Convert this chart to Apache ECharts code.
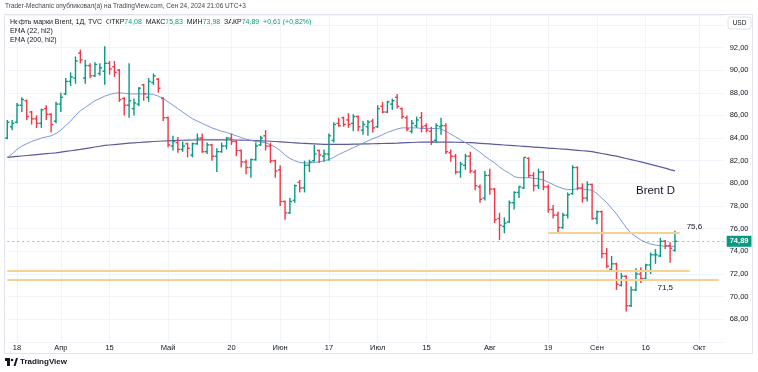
<!DOCTYPE html>
<html><head><meta charset="utf-8">
<script src="https://cdn.jsdelivr.net/npm/echarts@6/dist/echarts.min.js"></script>
<style>html,body{margin:0;padding:0;background:#fff;}#c{width:758px;height:372px;}</style>
</head><body><div id="c"></div>
<script>
// ---- data (trading days, TVC Brent, 1D) ----
const dates = [
'03-14','03-15','03-18','03-19','03-20','03-21','03-22','03-25','03-26','03-27','03-28',
'04-01','04-02','04-03','04-04','04-05','04-08','04-09','04-10','04-11','04-12','04-15','04-16','04-17','04-18','04-19','04-22','04-23','04-24','04-25','04-26','04-29','04-30',
'05-01','05-02','05-03','05-06','05-07','05-08','05-09','05-10','05-13','05-14','05-15','05-16','05-17','05-20','05-21','05-22','05-23','05-24','05-27','05-28','05-29','05-30','05-31',
'06-03','06-04','06-05','06-06','06-07','06-10','06-11','06-12','06-13','06-14','06-17','06-18','06-19','06-20','06-21','06-24','06-25','06-26','06-27','06-28',
'07-01','07-02','07-03','07-04','07-05','07-08','07-09','07-10','07-11','07-12','07-15','07-16','07-17','07-18','07-19','07-22','07-23','07-24','07-25','07-26','07-29','07-30','07-31',
'08-01','08-02','08-05','08-06','08-07','08-08','08-09','08-12','08-13','08-14','08-15','08-16','08-19','08-20','08-21','08-22','08-23','08-26','08-27','08-28','08-29','08-30',
'09-02','09-03','09-04','09-05','09-06','09-09','09-10','09-11','09-12','09-13','09-16','09-17','09-18','09-19','09-20','09-23','09-24'];
const futureDates = ['09-25','09-26','09-27','09-30','10-01','10-02','10-03','10-04','10-07','10-08'];

const opens = [
84.0,85.0,85.4,86.9,87.3,86.3,85.7,85.3,86.6,86.1,85.5,
87.0,87.9,89.0,89.3,91.5,89.3,90.4,89.5,89.7,89.9,90.6,90.3,90.0,87.5,86.9,86.6,87.0,88.7,87.6,88.9,89.2,87.5,
85.8,83.3,83.6,83.0,83.5,82.5,83.5,84.0,82.8,83.4,82.4,82.8,83.3,84.0,83.7,82.9,81.9,81.4,82.1,83.4,84.2,83.3,82.0,
81.2,78.4,77.4,78.5,80.1,79.6,81.6,82.0,82.9,82.4,82.6,83.8,85.3,85.8,85.6,85.3,85.9,84.7,85.0,85.5,
85.0,86.8,86.3,87.0,87.6,86.6,85.8,84.6,85.1,85.8,85.1,84.6,83.8,85.0,85.1,82.7,82.4,81.0,81.6,82.4,81.0,79.7,78.7,
80.7,79.5,76.9,76.2,76.6,78.3,79.2,79.6,82.2,80.7,79.8,81.0,79.7,77.7,77.2,76.1,77.2,79.1,81.4,79.6,78.7,79.9,
76.9,77.5,73.8,72.4,72.9,71.0,71.8,69.2,70.6,72.0,71.6,72.8,73.7,73.6,74.9,74.5,74.08];
const highs = [
85.6,85.6,87.1,87.6,87.4,86.4,86.0,86.6,86.9,86.2,87.2,
88.0,89.3,89.8,91.2,91.8,90.9,90.6,90.7,90.6,92.1,90.8,90.8,90.1,87.6,90.6,87.5,88.5,88.8,89.3,89.7,89.3,87.6,
85.9,84.2,84.1,83.7,83.6,83.6,84.4,84.4,83.6,83.5,83.1,83.6,84.1,84.4,83.8,83.0,82.1,82.2,83.6,84.2,84.7,83.6,82.1,
81.6,78.5,78.7,79.9,80.3,82.0,82.1,83.4,83.0,83.0,84.4,85.4,85.8,85.9,86.2,86.1,86.0,85.5,85.6,85.7,
86.9,87.2,87.3,87.5,87.9,86.7,86.0,85.6,85.9,86.3,85.3,85.0,85.3,85.8,85.3,83.0,82.6,81.9,82.6,82.8,81.2,79.9,81.1,
81.3,79.6,77.4,77.0,78.5,79.3,79.8,82.3,82.3,81.0,81.3,81.1,79.9,78.1,77.5,77.4,79.2,81.6,81.5,80.0,80.2,80.0,
77.6,77.6,74.3,73.6,73.0,72.1,71.9,70.9,72.5,72.6,72.9,73.9,74.2,75.2,75.0,74.8,75.83];
const lows = [
83.9,84.7,85.3,86.3,85.6,85.2,84.9,84.9,85.6,84.5,85.3,
86.3,87.8,88.6,88.8,90.6,88.8,89.3,89.4,89.5,88.7,89.6,89.4,87.2,86.0,85.8,86.0,86.8,87.3,87.2,88.7,88.0,85.5,
83.2,82.9,82.7,82.8,82.3,82.3,83.4,82.7,82.6,82.0,81.0,82.7,83.0,83.4,82.4,81.4,80.8,80.5,82.0,83.3,82.9,81.8,80.5,
78.0,76.8,77.3,78.3,79.2,79.2,81.0,81.9,81.8,81.9,82.0,83.6,85.0,85.0,84.9,84.6,84.6,84.3,84.2,84.5,
84.9,86.2,86.2,86.5,86.6,85.7,84.6,84.4,84.9,84.5,84.5,83.4,83.6,84.3,82.6,81.9,80.8,80.5,81.2,80.9,79.4,78.3,78.5,
79.0,76.5,75.0,75.6,76.5,77.7,78.7,79.5,80.5,79.3,79.5,79.4,77.4,76.9,75.6,76.0,76.9,79.0,79.4,78.3,78.4,76.8,
76.4,73.4,72.5,72.3,70.6,70.9,68.7,69.1,70.5,71.2,71.5,72.0,72.9,73.5,74.2,73.0,73.98];
const closes = [
85.4,85.3,86.9,87.4,85.9,85.7,85.3,86.5,86.1,85.2,87.0,
87.6,89.0,89.4,90.8,90.9,90.4,89.5,90.5,90.2,90.6,90.1,89.8,87.4,86.9,87.3,87.1,88.4,87.9,89.0,89.5,88.4,85.8,
83.4,83.7,83.0,83.3,83.1,83.5,84.0,82.8,83.4,82.4,82.8,83.3,84.0,83.7,82.9,81.9,81.4,82.1,83.3,84.0,83.3,82.0,81.1,
78.4,77.4,78.4,79.8,79.6,81.6,81.9,82.6,82.5,82.6,84.2,85.2,85.1,85.2,85.2,85.9,85.0,85.2,85.4,84.9,
86.6,86.3,87.2,87.3,86.8,85.9,84.8,85.3,85.6,85.0,84.7,83.7,85.1,85.1,82.8,82.4,81.0,81.7,82.4,81.1,79.8,78.6,80.7,
79.5,76.8,76.3,76.5,78.3,79.2,79.7,82.3,80.7,79.8,81.0,79.7,77.7,77.2,76.1,77.2,79.0,81.4,79.6,78.7,79.9,76.9,
77.5,73.8,72.7,72.9,71.1,71.8,69.2,70.6,72.0,71.6,72.8,73.7,73.7,74.9,74.5,74.28,74.89];

const ema22 = [
82.3,82.6,83.0,83.3,83.5,83.7,83.85,84.0,84.1,84.2,
84.4,84.7,85.1,85.5,86.0,86.4,86.7,87.0,87.3,87.5,
87.7,87.85,87.95,88.0,87.95,87.9,87.9,87.9,87.9,87.9,
87.85,87.7,87.5,87.2,86.9,86.6,86.3,86.0,85.7,85.5,
85.3,85.1,84.9,84.75,84.6,84.5,84.35,84.2,84.05,83.9,
83.8,83.7,83.65,83.6,83.4,83.2,82.9,82.5,82.2,82.0,
81.85,81.8,81.8,81.85,81.9,82.0,82.1,82.3,82.55,82.75,
82.95,83.15,83.35,83.55,83.75,83.95,84.1,84.3,84.5,84.65,
84.8,84.9,84.9,84.9,84.9,84.85,84.85,84.85,84.85,84.8,
84.6,84.35,84.1,83.85,83.6,83.35,83.05,82.75,82.4,82.1,
81.8,81.45,81.15,80.9,80.6,80.5,80.5,80.5,80.45,80.4,
80.3,80.1,79.9,79.7,79.55,79.45,79.45,79.55,79.5,79.45,
79.4,79.1,78.7,78.3,77.8,77.3,76.7,76.1,75.6,75.3,
75.0,74.8,74.65,74.55,74.5,74.45,74.45,74.45];
const ema200 = [
82.30,82.34,82.38,82.42,82.46,82.50,82.54,82.58,82.62,82.66,
82.70,82.76,82.82,82.88,82.94,83.00,83.07,83.14,83.21,83.28,
83.35,83.39,83.43,83.47,83.51,83.55,83.58,83.61,83.64,83.67,
83.70,83.72,83.74,83.76,83.78,83.80,83.81,83.82,83.83,83.84,
83.85,83.85,83.85,83.85,83.85,83.85,83.84,83.83,83.82,83.81,
83.80,83.78,83.76,83.74,83.72,83.70,83.67,83.64,83.61,83.58,
83.55,83.53,83.51,83.49,83.47,83.45,83.45,83.45,83.45,83.45,
83.45,83.46,83.47,83.48,83.49,83.50,83.51,83.52,83.53,83.54,
83.55,83.57,83.59,83.61,83.63,83.65,83.65,83.65,83.65,83.65,
83.65,83.64,83.63,83.62,83.61,83.60,83.57,83.54,83.51,83.48,
83.45,83.42,83.39,83.36,83.33,83.30,83.27,83.24,83.21,83.18,
83.15,83.12,83.09,83.06,83.03,83.00,82.96,82.92,82.88,82.84,
82.80,82.72,82.64,82.56,82.48,82.40,82.30,82.20,82.10,82.00,
81.90,81.79,81.68,81.57,81.46,81.35,81.22,81.10];

const tickDates = ['03-18','04-01','04-15','05-01','05-20','06-03','06-17','07-01','07-15','08-01','08-19','09-02','09-16','10-01'];
const tickTexts = ['18','Апр','15','Май','20','Июн','17','Июл','15','Авг','19','Сен','16','Окт'];

const levelPrices = [75.6, 72.3, 71.5];
const levelFrom = ['08-19','03-14','03-14'];
const levelTo = ['09-25','09-27','10-07'];

// ---- chart ----
const FONT = '"Liberation Sans", Arial, sans-serif';
const UP = '#089981', DOWN = '#f23645';
const cats = dates.concat(futureDates);
const labelMap = {};
tickDates.forEach((d, k) => { labelMap[d] = tickTexts[k]; });
const ohlc = dates.map((d, i) => [i, opens[i], highs[i], lows[i], closes[i]]);
const last = closes[closes.length - 1];
const fmt = v => v.toFixed(2).replace('.', ',');

const chart = echarts.init(document.getElementById('c'));

function renderBar(params, api) {
  const i = api.value(0);
  const o = api.value(1), h = api.value(2), l = api.value(3), c = api.value(4);
  const pH = api.coord([i, h]), pL = api.coord([i, l]);
  const pO = api.coord([i, o]), pC = api.coord([i, c]);
  const w = api.size([1, 0])[0];
  const t = Math.max(1.5, w * 0.45);
  const col = c >= o ? UP : DOWN;
  const st = { stroke: col, lineWidth: 1.4 };
  return {
    type: 'group',
    children: [
      { type: 'line', shape: { x1: pH[0], y1: pH[1], x2: pL[0], y2: pL[1] }, style: st },
      { type: 'line', shape: { x1: pO[0] - t, y1: pO[1], x2: pO[0], y2: pO[1] }, style: st },
      { type: 'line', shape: { x1: pC[0], y1: pC[1], x2: pC[0] + t, y2: pC[1] }, style: st }
    ]
  };
}

const levelLines = levelPrices.map((p, k) => [
  { coord: [levelFrom[k], p] }, { coord: [levelTo[k], p] }
]);

const option = {
  animation: false,
  backgroundColor: '#ffffff',
  grid: { left: 7.25, right: 34.3, top: 15.5, bottom: 30 },
  xAxis: {
    type: 'category', data: cats, boundaryGap: false,
    axisLine: { show: false }, axisTick: { show: false },
    axisLabel: {
      interval: (i, v) => labelMap[v] !== undefined,
      formatter: v => labelMap[v] || '',
      color: '#131722', fontSize: 7.5, margin: 2, fontFamily: FONT
    },
    splitLine: {
      show: true, interval: (i, v) => labelMap[v] !== undefined,
      lineStyle: { color: '#f0f3fa', width: 1 }
    }
  },
  yAxis: {
    type: 'value', position: 'right', min: 66, max: 94.82, interval: 2,
    axisLine: { show: false }, axisTick: { show: false },
    axisLabel: {
      formatter: v => (v < 67 || v > 93) ? '' : fmt(v),
      color: '#131722', fontSize: 7.5, margin: 6, fontFamily: FONT
    },
    splitLine: { lineStyle: { color: '#f0f3fa', width: 1 } }
  },
  series: [
    {
      name: 'EMA200', type: 'line', data: ema200, symbol: 'none', z: 2,
      lineStyle: { color: '#5e5a9e', width: 1.2 },
      markLine: {
        silent: true, symbol: ['none', 'none'], animation: false,
        label: { show: false },
        lineStyle: { color: '#f7d094', width: 2, type: 'solid' },
        data: levelLines.concat([[
          { coord: [cats[0], last], lineStyle: { color: 'rgba(8,153,129,0.5)', width: 1, type: [2, 3] },
            label: { show: true, position: 'end', formatter: fmt(last), color: '#ffffff', backgroundColor: '#089981',
              padding: [2, 3, 1, 3], fontSize: 7.5, fontWeight: 'bold', fontFamily: FONT, distance: 3 } },
          { coord: [cats[cats.length - 1], last] }
        ]])
      },
      markPoint: {
        silent: true, symbol: 'circle', symbolSize: 0,
        label: { show: true, position: 'inside', color: '#131722', fontSize: 8, fontFamily: FONT, formatter: p => p.name },
        data: [
          { name: '75,6', coord: ['09-30', 76.15] },
          { name: '71,5', coord: ['09-20', 70.75] },
          { name: 'Brent D', coord: ['09-18', 79.35], label: { fontSize: 11.5 } }
        ]
      }
    },
    {
      name: 'EMA22', type: 'line', data: ema22, symbol: 'none', z: 3,
      lineStyle: { color: '#7c9ad6', width: 1 }
    },
    {
      name: 'Brent', type: 'custom', renderItem: renderBar, data: ohlc, z: 4,
      encode: { x: 0, y: [1, 2, 3, 4] }
    }
  ],
  graphic: [
    { type: 'rect', shape: { x: 4.5, y: 14.5, width: 748, height: 339 }, style: { fill: 'none', stroke: '#e0e3eb', lineWidth: 1 }, z: 100 },
    { type: 'text', left: 5, top: 3, style: { text: 'Trader-Mechanic опубликовал(а) на TradingView.com, Сен 24, 2024 21:06 UTC+3', fill: '#434651', font: '6.5px ' + FONT } },
    { type: 'text', left: 10, top: 19, style: {
        text: '{a|Нефть марки Brent, 1Д, TVC  ОТКР}{b|74,08}{a|  МАКС}{b|75,83}{a|  МИН}{b|73,98}{a|  ЗАКР}{b|74,89}{b|  +0,61 (+0,82%)}',
        rich: { a: { fill: '#131722', font: '7px ' + FONT }, b: { fill: '#089981', font: '7px ' + FONT } } } },
    { type: 'text', left: 10, top: 28, style: { text: 'EMA (22, hl2)', fill: '#131722', font: '7px ' + FONT } },
    { type: 'text', left: 10, top: 37, style: { text: 'EMA (200, hl2)', fill: '#131722', font: '7px ' + FONT } },
    { type: 'rect', shape: { x: 728, y: 17, width: 23, height: 12, r: 2 }, style: { fill: '#fff', stroke: '#e0e3eb' }, z: 101 },
    { type: 'text', x: 739.5, y: 23, z: 102, style: { text: 'USD', fill: '#131722', font: '6.5px ' + FONT, textAlign: 'center', textVerticalAlign: 'middle' } },
    { type: 'group', left: 5, top: 358, children: [
        { type: 'rect', shape: { x: 0, y: 0, width: 5, height: 3 }, style: { fill: '#131722' } },
        { type: 'rect', shape: { x: 2, y: 0, width: 3, height: 8 }, style: { fill: '#131722' } },
        { type: 'circle', shape: { cx: 7, cy: 2, r: 1.3 }, style: { fill: '#131722' } },
        { type: 'polygon', shape: { points: [[8.5, 8], [11, 0], [13, 0], [10.5, 8]] }, style: { fill: '#131722' } }
      ] },
    { type: 'text', left: 20, top: 358, style: { text: 'TradingView', fill: '#131722', font: 'bold 8px ' + FONT } }
  ]
};
chart.setOption(option);
</script>
</body></html>
